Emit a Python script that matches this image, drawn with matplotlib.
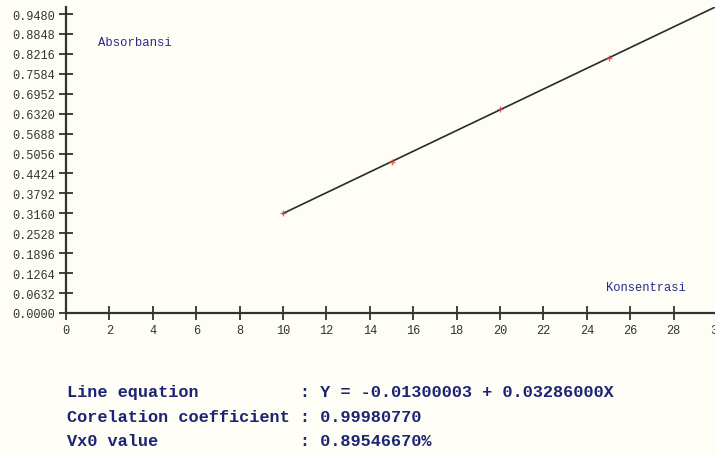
import matplotlib
matplotlib.use("Agg")
import matplotlib.pyplot as plt
import numpy as np

# Data
konsentrasi = [10, 15, 20, 25, 30]
absorbansi = [0.318, 0.479, 0.646, 0.810, 0.970]
intercept = -0.01300003
slope = 0.03286000
y_ticks = [0.0000, 0.0632, 0.1264, 0.1896, 0.2528, 0.3160, 0.3792, 0.4424,
           0.5056, 0.5688, 0.6320, 0.6952, 0.7584, 0.8216, 0.8848, 0.9480]
x_ticks = list(range(0, 31, 2))
info_lines = [
    "Line equation          : Y = -0.01300003 + 0.03286000X",
    "Corelation coefficient : 0.99980770",
    "Vx0 value              : 0.89546670%",
]

W, H = 715, 456
bg = "#fefef7"
fig = plt.figure(figsize=(W / 100, H / 100), dpi=100, facecolor=bg)

left_px, right_px, bottom_px, top_px = 66, 717, 314, 8
ax = fig.add_axes([left_px / W, (H - bottom_px) / H,
                   (right_px - left_px) / W, (bottom_px - top_px) / H])
ax.set_facecolor(bg)
ax.patch.set_alpha(0)

ymax = (bottom_px - top_px) / ((bottom_px - 15) / 0.948)
ax.set_xlim(0, 30)
ax.set_ylim(0, ymax)

# regression line
xl = np.array([konsentrasi[0], konsentrasi[-1]])
ax.plot(xl, intercept + slope * xl, color="#2a2a2a", lw=1.2, zorder=3)
ax.plot(konsentrasi, absorbansi, linestyle="none", marker="+", ms=5,
        mew=1.0, color="#d04848", zorder=4, alpha=0.8)

for s in ["top", "right"]:
    ax.spines[s].set_visible(False)
for s in ["left", "bottom"]:
    ax.spines[s].set_color("#333333")
    ax.spines[s].set_linewidth(1.6)

ax.set_yticks(y_ticks)
ax.set_yticklabels([f"{v:.4f}" for v in y_ticks])
ax.set_xticks(x_ticks)
ax.set_xticklabels([str(v) for v in x_ticks])
ax.tick_params(direction="inout", length=10, width=1.3, color="#333333",
               labelcolor="#333333", pad=3, labelsize=8.6)
for lab in ax.get_xticklabels() + ax.get_yticklabels():
    lab.set_family("Liberation Mono")

txt_color = "#2b2b8c"
fig.text(98 / W, 1 - 43 / H, "Absorbansi", family="Liberation Mono",
         fontsize=8.8, color=txt_color, ha="left", va="center")
fig.text(606 / W, 1 - 288 / H, "Konsentrasi", family="Liberation Mono",
         fontsize=8.7, color=txt_color, ha="left", va="center")

for line, ypx in zip(info_lines, [393, 418, 442]):
    fig.text(67 / W, 1 - ypx / H, line, family="Liberation Mono",
             fontweight="bold", fontsize=12.2, color="#1c2472",
             ha="left", va="center")

fig.savefig("out.png", dpi=100, facecolor=bg)
